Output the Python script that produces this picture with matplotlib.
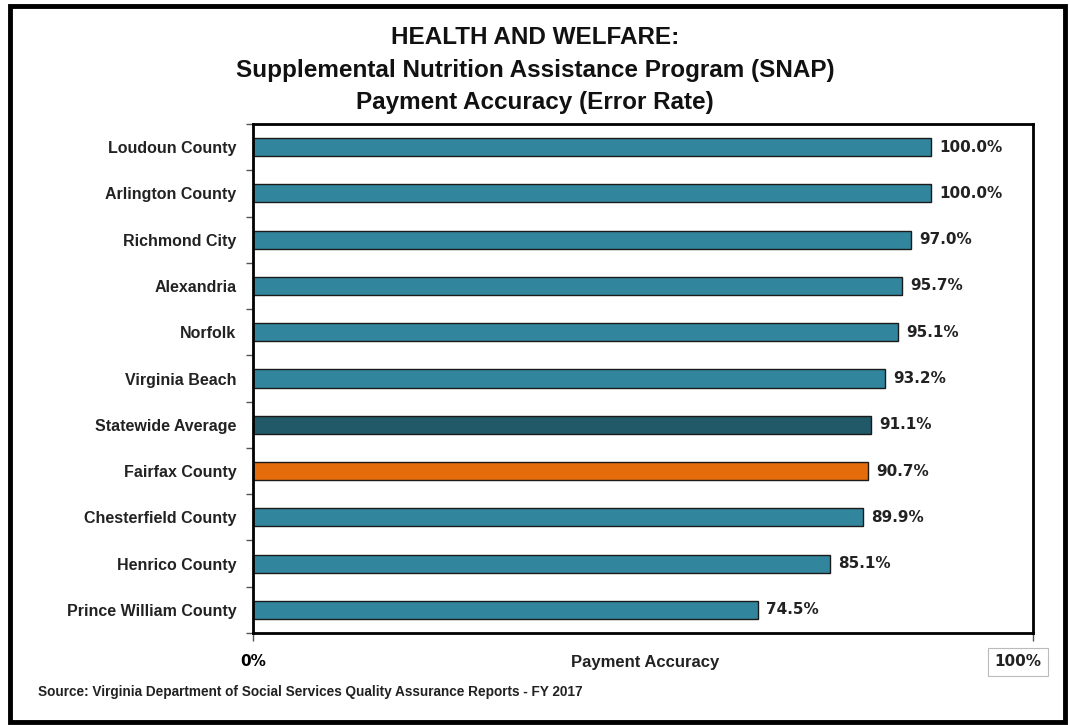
#!/usr/bin/env python3
"""SNAP payment accuracy bar chart."""

import matplotlib
matplotlib.use("Agg")
import matplotlib.pyplot as plt
from matplotlib.patches import Rectangle

categories = [
    "Loudoun County", "Arlington County", "Richmond City", "Alexandria",
    "Norfolk", "Virginia Beach", "Statewide Average", "Fairfax County",
    "Chesterfield County", "Henrico County", "Prince William County",
]
values = [100.0, 100.0, 97.0, 95.7, 95.1, 93.2, 91.1, 90.7, 89.9, 85.1, 74.5]

TEAL = "#31859c"
DARK = "#215968"
ORANGE = "#e46c0a"
colors = [TEAL] * len(values)
colors[categories.index("Statewide Average")] = DARK
colors[categories.index("Fairfax County")] = ORANGE

plt.rcParams["font.family"] = ["Liberation Sans", "DejaVu Sans"]

fig = plt.figure(figsize=(10.7, 7.25), dpi=100)
ax = fig.add_axes([253 / 1070, 1 - 633 / 725, (1033 - 253) / 1070, (633 - 124) / 725])

y = list(range(len(categories)))
ax.barh(y, values, height=0.39, color=colors, edgecolor="#1a1a1a", linewidth=1.0)
ax.set_ylim(len(categories) - 0.5, -0.5)
ax.set_xlim(0, 115)

for yi, v in zip(y, values):
    ax.text(v + 1.2, yi, f"{v:.1f}%", va="center", ha="left",
            fontsize=11, fontweight="bold", color="#222222", family="DejaVu Sans")

ax.set_yticks(y)
ax.set_yticklabels(categories, fontsize=11.5, fontweight="bold", color="#222222")
ax.set_yticks([i - 0.5 for i in range(len(categories) + 1)], minor=True)
ax.tick_params(axis="y", which="major", length=0, pad=12)
ax.tick_params(axis="y", which="minor", length=5, width=1, color="#555555", direction="out")

ax.set_xticks([0, 115])
ax.set_xticklabels(["0%", ""], fontsize=11, fontweight="bold", family="DejaVu Sans")
ax.tick_params(axis="x", length=6, width=1, color="#555555", pad=9)

for s in ax.spines.values():
    s.set_linewidth(2)
    s.set_color("black")

fig.text(645 / 1070, 1 - 662 / 725, "Payment Accuracy", ha="center", va="center",
         fontsize=12, fontweight="bold", color="#222222")
fig.text(1018 / 1070, 1 - 662 / 725, "100%", ha="center", va="center",
         fontsize=11, fontweight="bold", family="DejaVu Sans", color="#222222",
         bbox=dict(boxstyle="square,pad=0.45", fc="white", ec="#bbbbbb", lw=0.8))

title_lines = ["HEALTH AND WELFARE:",
               "Supplemental Nutrition Assistance Program (SNAP)",
               "Payment Accuracy (Error Rate)"]
for line, ypix in zip(title_lines, [37, 70, 102]):
    fig.text(0.5, 1 - ypix / 725, line, ha="center", va="center",
             fontsize=17.5, fontweight="bold", color="#111111")

fig.text(38 / 1070, 1 - 692 / 725,
         "Source: Virginia Department of Social Services Quality Assurance Reports - FY 2017",
         ha="left", va="center", fontsize=9.8, fontweight="bold", color="#222222")

fig.patches.append(Rectangle((10 / 1070, 3 / 725), 1055 / 1070, 716 / 725,
                             transform=fig.transFigure, fill=False, ec="black", lw=3.5))

fig.savefig("out.png", dpi=100)
